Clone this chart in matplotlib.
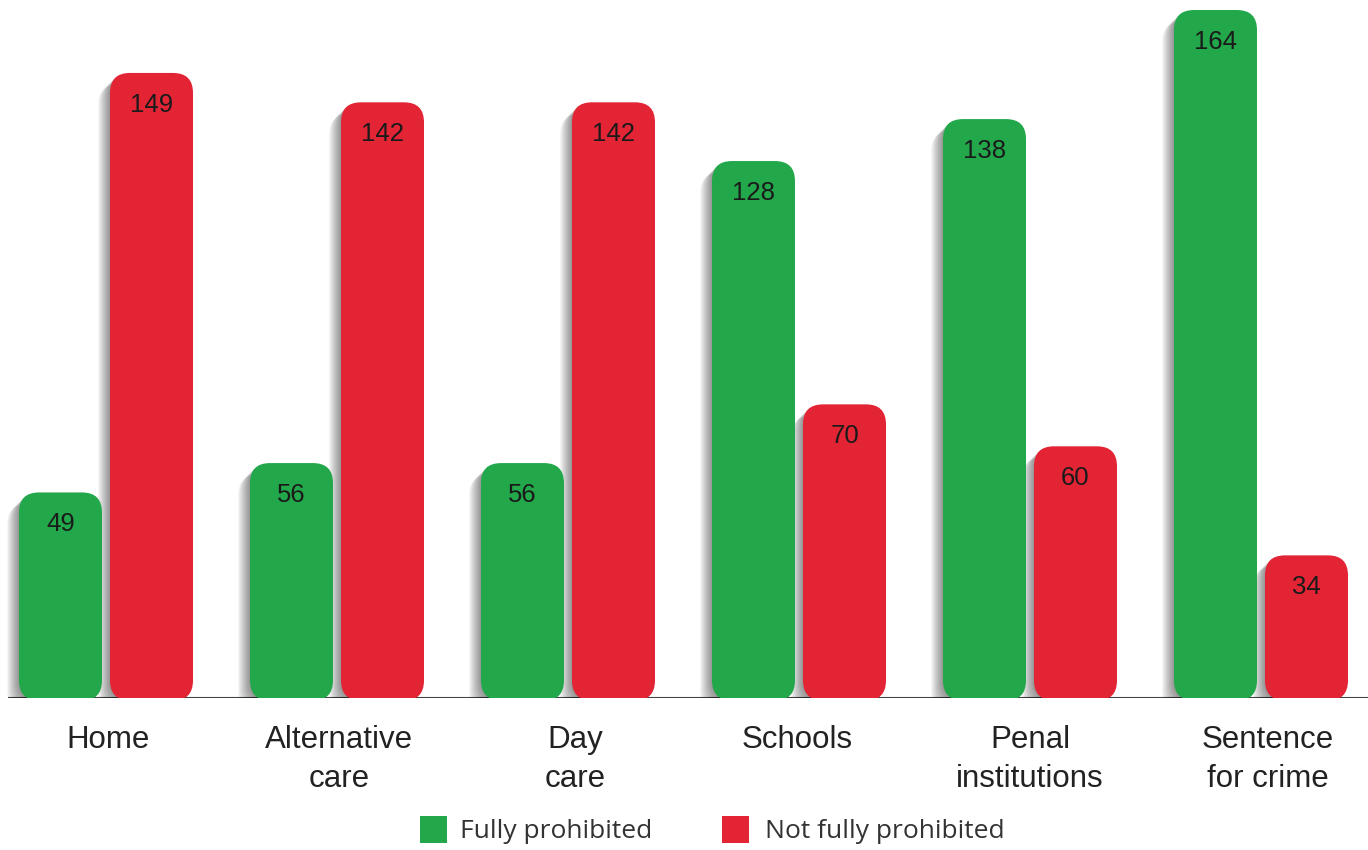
import numpy as np
import matplotlib
matplotlib.use('Agg')
import matplotlib.pyplot as plt
from matplotlib.patches import FancyBboxPatch, Rectangle
from matplotlib.transforms import offset_copy

categories = ['Home', 'Alternative\ncare', 'Day\ncare', 'Schools', 'Penal\ninstitutions', 'Sentence\nfor crime']
fully = [49, 56, 56, 128, 138, 164]
not_fully = [149, 142, 142, 70, 60, 34]
series_names = ['Fully prohibited', 'Not fully prohibited']

GREEN = '#22A84A'
RED = '#E32434'

W, H, DPI = 1368, 850, 100
fig = plt.figure(figsize=(W / DPI, H / DPI), dpi=DPI)

base_px = 698          # baseline from top
ax = fig.add_axes([0, 1 - base_px / H, 1, base_px / H])
x0, x1 = -106 / 231, (W - 106) / 231
y1 = base_px / 4.195
ax.set_xlim(x0, x1)
ax.set_ylim(0, y1)
ax.axis('off')

px_x = W / (x1 - x0)
px_y = base_px / y1
bw = 83 / px_x
off = 45.5 / px_x
r = 20 / px_x
aspect = px_x / px_y

ax.plot([x0 + 8 / px_x, x1], [0, 0], color='#444444', lw=1.5, zorder=1,
        solid_capstyle='butt')


def rounded_bar(xc, val, color):
    # soft shadow, down and to the left
    for k in range(1, 13):
        tr = offset_copy(ax.transData, fig=fig, x=-k * 1.0, y=-k * 1.0, units='dots')
        ax.add_patch(FancyBboxPatch((xc - bw / 2, -0.6), bw, val + 0.6,
                                    boxstyle=f'round,pad=0,rounding_size={r}',
                                    mutation_aspect=aspect, transform=tr,
                                    facecolor='black', edgecolor='none',
                                    alpha=0.04, zorder=2))
    ax.add_patch(FancyBboxPatch((xc - bw / 2, -0.6), bw, val + 0.6,
                                boxstyle=f'round,pad=0,rounding_size={r}',
                                mutation_aspect=aspect, facecolor=color,
                                edgecolor='none', zorder=3))
    ax.annotate(str(val), (xc, val), xytext=(0, -23), textcoords='offset points',
                ha='center', va='center', fontsize=18.5, color='#1a1a1a',
                family='Liberation Sans', zorder=4)


x = np.arange(len(categories))
for i in x:
    rounded_bar(i - off, fully[i], GREEN)
    rounded_bar(i + off, not_fully[i], RED)

label_x = [0.01, 0.01, 0.03, -0.01, 0.0, 0.03]
for i, cat in enumerate(categories):
    fig.text((x[i] + label_x[i] - x0) / (x1 - x0), 1 - 725 / H, cat, ha='center', va='top',
             fontsize=22.5, color='#222222', family='Liberation Sans', linespacing=1.38)

# legend
for (sx, tx), name, col in zip([(420, 460), (722, 765)], series_names, [GREEN, RED]):
    fig.patches.append(Rectangle((sx / W, 1 - 843 / H), 27 / W, 27 / H,
                                 transform=fig.transFigure, facecolor=col,
                                 edgecolor='none'))
    fig.text(tx / W, 1 - 832 / H, name, ha='left', va='center', fontsize=19,
             color='#333333', family='Open Sans')

fig.savefig('out.png', dpi=DPI, facecolor='white')
